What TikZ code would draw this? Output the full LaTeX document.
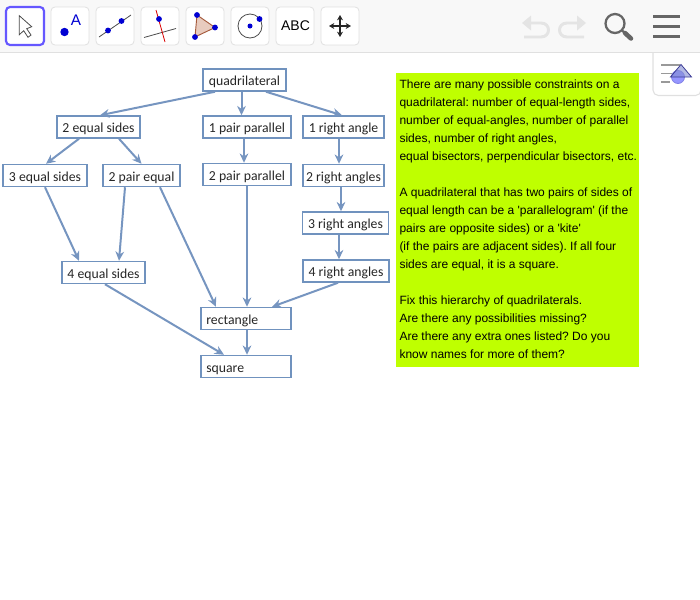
\documentclass[tikz,border=0pt]{standalone}
\usepackage{fontspec}
\setmainfont{Carlito}
\newfontfamily\panelfont{Liberation Sans}
\usetikzlibrary{arrows.meta,calc}

\definecolor{boxblue}{RGB}{112,146,190}
\definecolor{linkblue}{RGB}{118,149,192}
\definecolor{panelgreen}{RGB}{191,255,0}
\definecolor{barback}{RGB}{248,248,248}
\definecolor{barline}{RGB}{224,224,224}
\definecolor{iconblue}{RGB}{0,0,210}
\definecolor{icongrey}{RGB}{102,102,102}
\definecolor{undogrey}{RGB}{228,228,228}

\tikzset{every picture/.style={line width=0.75pt}}
\tikzset{
  qbox/.style={draw=boxblue,line width=1.1pt,fill=white,inner sep=0pt,minimum height=16.5pt,text height=8.6pt,text depth=0pt,font=\fontsize{10.3pt}{11pt}\selectfont,text=black!85},
  qboxleft/.style={qbox,inner xsep=4pt,text width=59.5pt,align=left},
  link/.style={draw=linkblue,line width=1.5pt,-{Stealth[length=7pt,width=6.5pt]}},
  toolbtn/.style={draw=barline,fill=white,rounded corners=3pt,line width=0.6pt},
  bluedot/.style={fill=iconblue},
  undoline/.style={draw=undogrey,line width=2.2pt},
  menuline/.style={draw=icongrey,line width=2.2pt}
}

\begin{document}
\begin{tikzpicture}[x=0.75pt,y=0.75pt,yscale=-1,xscale=1]
    \useasboundingbox (0,0) rectangle (700,600);

    % toolbar
    \fill [barback] (0,0) rectangle (700,52);
    \draw [barline,line width=1pt] (0,52.5) -- (700,52.5);
    \draw [draw={rgb,255:red,101;green,87;blue,255},fill=white,rounded corners=3pt,line width=1.6pt] (6,7) rectangle (44,45);
    \foreach \bx in {51,96,141,186,231,276,321}
      \draw [toolbtn] (\bx,7) rectangle ++(38,38);

    % cursor
    \draw [fill=white,draw=black!70,line width=0.6pt] (19.3,15.7) -- (19.3,34.7) -- (23.7,30.7) -- (28,37.3) -- (31,35) -- (26.7,28.7) -- (31.7,26.7) -- cycle;
    % point
    \fill [bluedot] (64.5,32) circle (4.2);
    \node (ptlabel) at (76,20) {\panelfont\fontsize{11.5pt}{12pt}\selectfont\color{iconblue}A};
    % line
    \draw [black!70,line width=0.6pt] (99,37) -- (131,15);
    \fill [bluedot] (108,30.5) circle (2.9);
    \fill [bluedot] (121.5,21) circle (2.9);
    % perpendicular
    \draw [black!70,line width=0.6pt] (144,37.5) -- (176,28.5);
    \draw [red!85!black,line width=0.6pt] (156,10) -- (165,42);
    \fill [bluedot] (159,19) circle (2.9);
    % triangle
    \draw [fill={rgb,255:red,232;green,203;blue,190},draw={rgb,255:red,165;green,90;blue,60},line width=0.7pt] (197,15) -- (215,27.5) -- (195,37) -- cycle;
    \fill [bluedot] (197,15) circle (2.9);
    \fill [bluedot] (215,27.5) circle (2.9);
    \fill [bluedot] (195,37) circle (2.9);
    % circle
    \draw [black!70,line width=0.6pt] (250,26) circle (12);
    \fill [bluedot] (250,26) circle (2.5);
    \fill [bluedot] (259.5,19) circle (2.9);
    % text tool
    \node (abclabel) at (295.5,26) {\panelfont\fontsize{10.5pt}{12pt}\selectfont ABC};
    % move
    \draw [black!85,line width=0.8pt,{Stealth[length=4pt,width=4.5pt]}-{Stealth[length=4pt,width=4.5pt]}] (329,26) -- (351,26);
    \draw [black!85,line width=0.8pt,{Stealth[length=4pt,width=4.5pt]}-{Stealth[length=4pt,width=4.5pt]}] (340,15) -- (340,37);

    % undo, redo
    \draw [undoline] (530,23) -- (541,23) .. controls (551,23) and (551,37) .. (541,37) -- (524,37);
    \fill [undogrey] (522,23) -- (531,15.5) -- (531,30.5) -- cycle;
    \draw [undoline] (578,23) -- (567,23) .. controls (557,23) and (557,37) .. (567,37) -- (584,37);
    \fill [undogrey] (586,23) -- (577,15.5) -- (577,30.5) -- cycle;
    % search
    \draw [icongrey,line width=1.7pt] (615,23.5) circle (9.5);
    \draw [icongrey,line width=1.7pt] (622,30.5) -- (625,33);
    \draw [icongrey,line width=3.4pt,line cap=round] (625,33) -- (631,38.5);
    % menu
    \draw [menuline] (653,16.5) -- (680,16.5);
    \draw [menuline] (653,26.5) -- (680,26.5);
    \draw [menuline] (653,36.5) -- (680,36.5);

    % algebra tab
    \draw [barline,fill=white,line width=0.8pt,rounded corners=4pt] (653,53) -- (653,95.5) -- (701,95.5) -- (701,53);
    \draw [black!40,line width=1.2pt] (661,65) -- (680,65);
    \draw [black!40,line width=1.2pt] (661,73.5) -- (672,73.5);
    \draw [black!40,line width=1.2pt] (661,82) -- (670,82);
    \draw [fill={rgb,255:red,150;green,150;blue,255},draw={rgb,255:red,130;green,130;blue,230},line width=0.6pt] (678,77) circle (6.5);
    \draw [draw={rgb,255:red,60;green,60;blue,150},fill={rgb,255:red,130;green,140;blue,210},fill opacity=0.6,line width=0.6pt] (681,64.5) -- (691.5,77) -- (670.5,77) -- cycle;

    % Boxes
    \node (quad) [qbox,minimum width=62.25pt] at (244.5,80) {quadrilateral};
    \node (eqtwo) [qbox,minimum width=62.25pt] at (98.5,127) {2 equal sides};
    \node (parone) [qbox,minimum width=66pt] at (247,127) {1 pair parallel};
    \node (rightone) [qbox,minimum width=60.75pt] at (343.5,127) {1 right angle};
    \node (eqthree) [qbox,minimum width=63pt] at (45,175.5) {3 equal sides};
    \node (pairtwo) [qbox,minimum width=57.75pt] at (141.5,175.5) {2 pair equal};
    \node (partwo) [qbox,minimum width=66pt] at (247,174.5) {2 pair parallel};
    \node (righttwo) [qbox,minimum width=60.75pt] at (343.5,175.5) {2 right angles};
    \node (rightthree) [qbox,minimum width=64.5pt] at (345.5,223) {3 right angles};
    \node (rightfour) [qbox,minimum width=64.5pt] at (346,271) {4 right angles};
    \node (eqfour) [qbox,minimum width=62.25pt] at (103.5,272.5) {4 equal sides};
    \node (rect) [qboxleft] at (246,318.5) {rectangle};
    \node (sq) [qboxleft] at (246,366.5) {square};

    % Connectors
    \draw [link] ($(quad.south)+(-29.5,0)$) -- ($(eqtwo.north)+(1.5,0)$);
    \draw [link] ($(quad.south)+(-3,0)$) -- ($(parone.north)+(-5.5,0)$);
    \draw [link] ($(quad.south)+(21.5,0)$) -- ($(rightone.north)+(-1.5,0)$);
    \draw [link] ($(eqtwo.south)+(-19.5,0)$) -- ($(eqthree.north)+(1,0)$);
    \draw [link] ($(eqtwo.south)+(20.5,0)$) -- (pairtwo.north);
    \draw [link] (eqthree.south) -- ($(eqfour.north)+(-24.5,0)$);
    \draw [link] ($(pairtwo.south)+(-16.5,0)$) -- ($(eqfour.north)+(15.5,0)$);
    \draw [link] ($(pairtwo.south)+(18.5,0)$) -- ($(rect.north)+(-30,0)$);
    \draw [link] ($(parone.south)+(-3,0)$) -- ($(partwo.north)+(-3,0)$);
    \draw [link] (partwo.south) -- ($(rect.north)+(1,0)$);
    \draw [link] ($(rightone.south)+(-4.5,0)$) -- ($(righttwo.north)+(-4.5,0)$);
    \draw [link] ($(righttwo.south)+(-2.5,0)$) -- ($(rightthree.north)+(-4.5,0)$);
    \draw [link] ($(rightthree.south)+(-6.5,0)$) -- ($(rightfour.north)+(-7,0)$);
    \draw [link] ($(rightfour.south)+(-8,0)$) -- ($(rect.north)+(26,0)$);
    \draw [link] ($(eqfour.south)+(1.5,0)$) -- ($(sq.north)+(-22,0)$);
    \draw [link] ($(rect.south)+(1,0)$) -- ($(sq.north)+(1,0)$);

    % Text panel
    \fill [panelgreen] (396,73) rectangle (639,367);
    \node (panel) [anchor=north west,inner sep=0pt,align=left,font=\panelfont\fontsize{9pt}{13.5pt}\selectfont\frenchspacing,text=black] at (399,79.5) {There are many possible constraints on a\\quadrilateral: number of equal-length sides,\\number of equal-angles, number of parallel\\sides, number of right angles,\\equal bisectors, perpendicular bisectors, etc.\\[13.5pt]A quadrilateral that has two pairs of sides of\\equal length can be a 'parallelogram' (if the\\pairs are opposite sides) or a 'kite'\\(if the pairs are adjacent sides). If all four\\sides are equal, it is a square.\\[13.5pt]Fix this hierarchy of quadrilaterals.\\Are there any possibilities missing?\\Are there any extra ones listed? Do you\\know names for more of them?};

\end{tikzpicture}
\end{document}
